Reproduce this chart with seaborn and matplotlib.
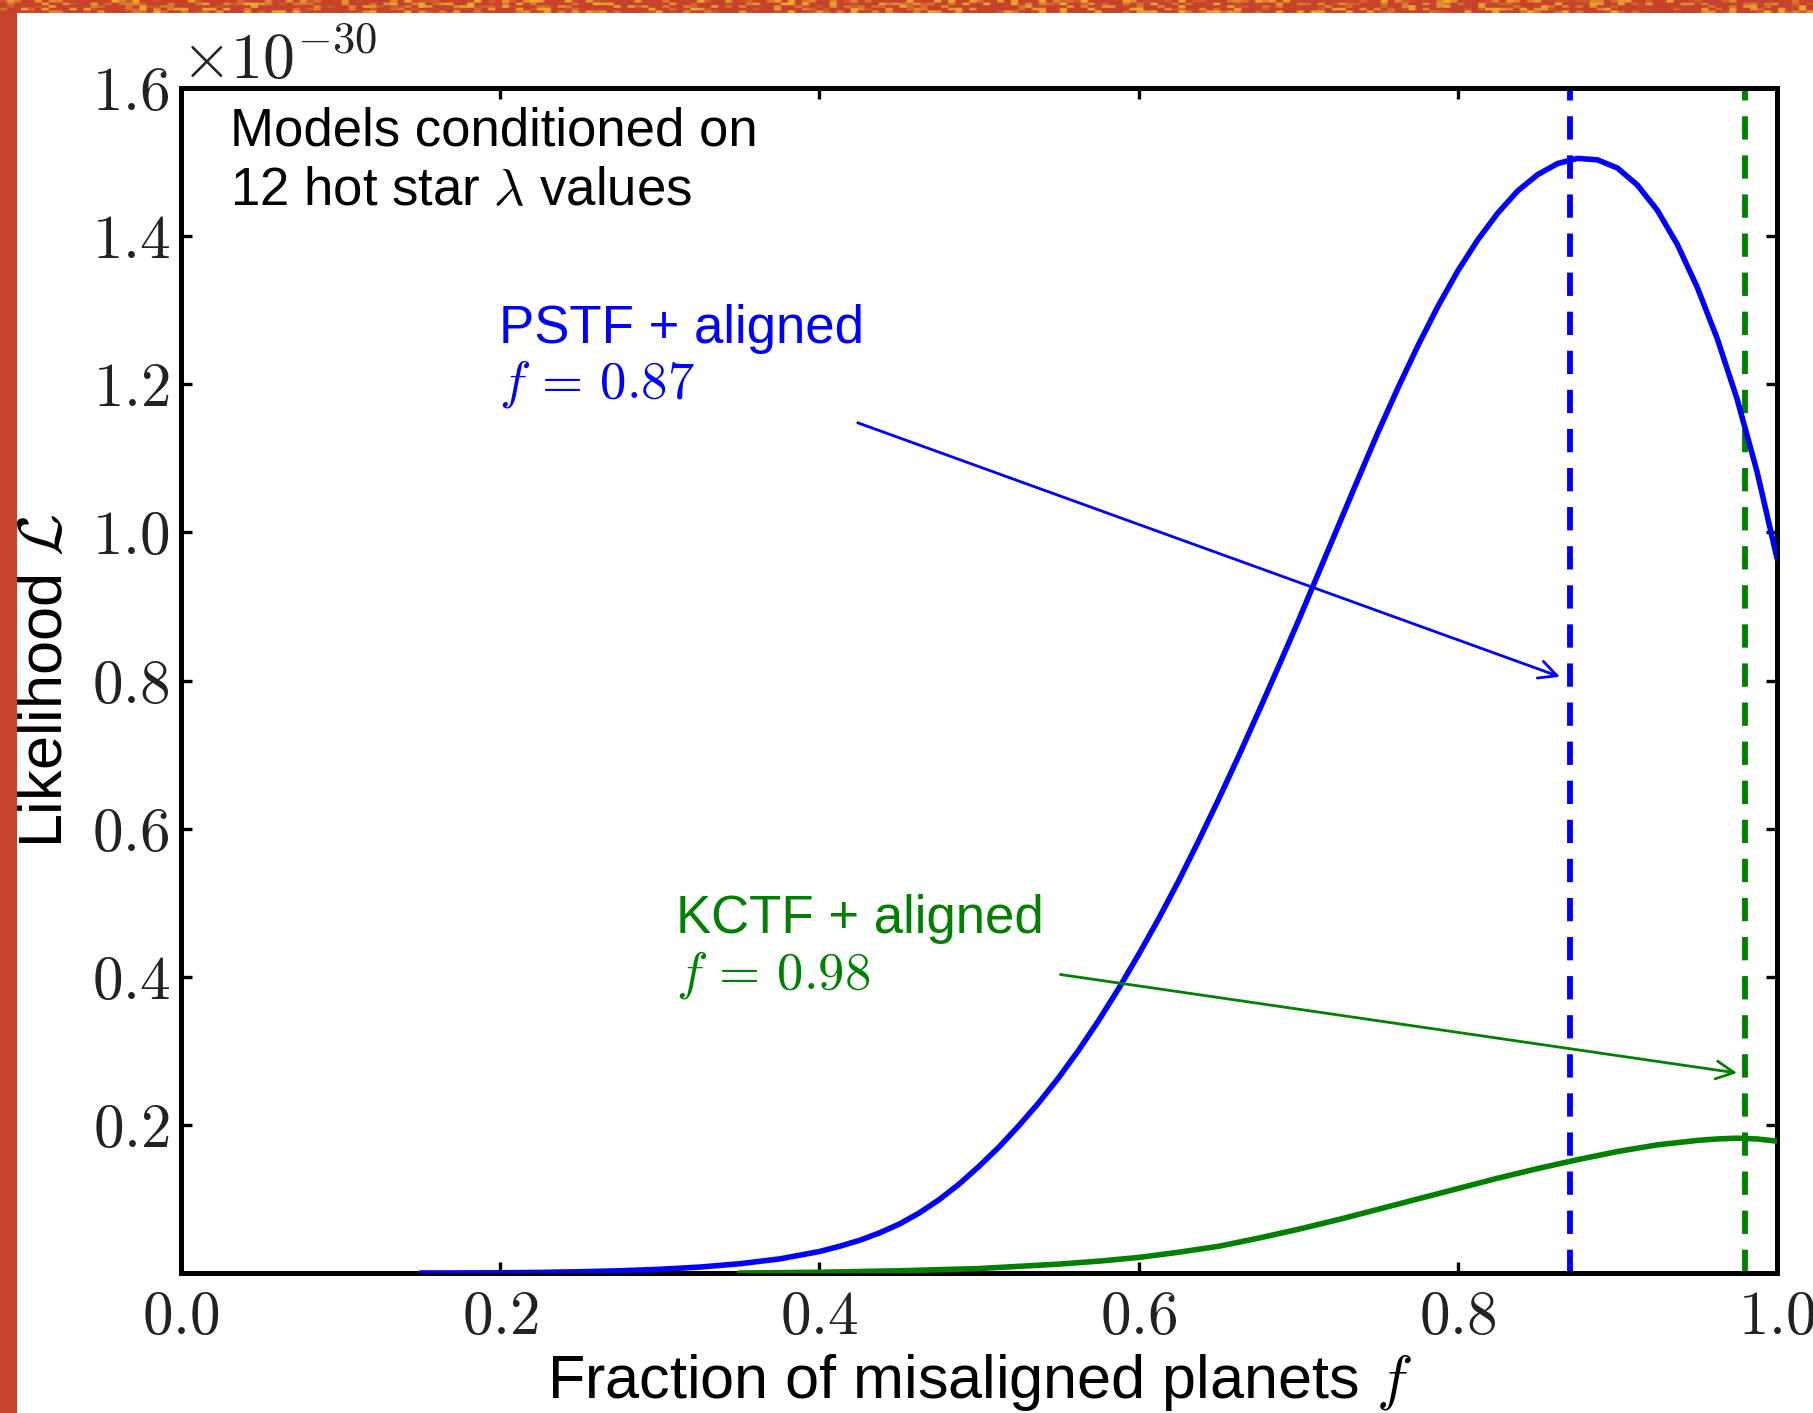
import numpy as np
import pandas as pd
import matplotlib
matplotlib.use("Agg")
import matplotlib.pyplot as plt
from matplotlib.patches import Rectangle
from matplotlib.ticker import FixedLocator, FuncFormatter
import seaborn as sns

# Likelihood curves (units of 1e-30) versus fraction of misaligned planets
f_grid = [0.15, 0.175, 0.20, 0.225, 0.25, 0.275, 0.30, 0.325, 0.35, 0.375,
          0.40, 0.4125, 0.425, 0.4375, 0.45, 0.4625, 0.475, 0.4875, 0.50,
          0.5125, 0.525, 0.5375, 0.55, 0.5625, 0.575, 0.5875, 0.60, 0.6125,
          0.625, 0.6375, 0.65, 0.6625, 0.675, 0.6875, 0.70, 0.7125, 0.725,
          0.7375, 0.75, 0.7625, 0.775, 0.7875, 0.80, 0.8125, 0.825, 0.8375,
          0.85, 0.8625, 0.875, 0.8875, 0.90, 0.9125, 0.925, 0.9375, 0.95,
          0.9625, 0.975, 0.9875, 1.00]
pstf_like = [0.0, 0.0001, 0.0003, 0.0008, 0.0017, 0.003, 0.005, 0.008, 0.0125,
             0.019, 0.029, 0.036, 0.044, 0.054, 0.066, 0.081, 0.099, 0.120,
             0.144, 0.170, 0.199, 0.230, 0.264, 0.301, 0.341, 0.384, 0.430,
             0.478, 0.529, 0.583, 0.639, 0.697, 0.757, 0.818, 0.880, 0.944,
             1.008, 1.072, 1.135, 1.195, 1.252, 1.305, 1.353, 1.395, 1.431,
             1.461, 1.483, 1.498, 1.505, 1.503, 1.492, 1.469, 1.435, 1.389,
             1.331, 1.262, 1.180, 1.082, 0.965]
f_grid_k = [0.35, 0.40, 0.45, 0.475, 0.50, 0.525, 0.55, 0.575, 0.60, 0.625,
            0.65, 0.675, 0.70, 0.725, 0.75, 0.775, 0.80, 0.825, 0.85, 0.875,
            0.90, 0.925, 0.95, 0.9625, 0.975, 0.9875, 1.00]
kctf_like = [0.0, 0.001, 0.003, 0.0045, 0.006, 0.009, 0.012, 0.016, 0.021,
             0.028, 0.036, 0.047, 0.059, 0.072, 0.086, 0.100, 0.114, 0.128,
             0.141, 0.153, 0.164, 0.173, 0.179, 0.181, 0.182, 0.181, 0.178]

# Best-fit fractions
f_best_pstf = 0.87
f_best_kctf = 0.98

x_ticks = [0.0, 0.2, 0.4, 0.6, 0.8, 1.0]
y_ticks = [0.2, 0.4, 0.6, 0.8, 1.0, 1.2, 1.4, 1.6]

sns.set_theme(style="ticks")
plt.rcParams["font.family"] = ["Liberation Sans", "DejaVu Sans"]
plt.rcParams["mathtext.fontset"] = "cm"

BLUE = "#0000ff"
GREEN = "#008000"
BORDER = "#c7432b"

W, H = 1813, 1413
fig = plt.figure(figsize=(W / 100, H / 100), dpi=100)
fig.patch.set_facecolor(BORDER)

# white page area
page = Rectangle((17 / W, 0), 1 - 17 / W, 1 - 13 / H,
                 transform=fig.transFigure, facecolor="white",
                 edgecolor="none", zorder=-10)
fig.patches.append(page)

# speckled strip along the top edge
strip = fig.add_axes([0, 1 - 13 / H, 1, 13 / H], zorder=-5)
rng = np.random.default_rng(7)
noise = rng.random((5, 260))
noise = np.kron(noise, np.ones((3, 3)))
tex = np.empty(noise.shape + (3,))
red = np.array([0.78, 0.26, 0.17])
yel = np.array([0.93, 0.66, 0.20])
mix = np.clip((noise - 0.55) * 2.5, 0, 1)[..., None]
tex[:] = red * (1 - mix) + yel * mix
strip.imshow(tex, aspect="auto", interpolation="bilinear")
strip.set_axis_off()

ax = fig.add_axes([181 / W, 1 - 1273 / H, (1777 - 181) / W, (1273 - 88) / H],
                  zorder=1)
ax.set_facecolor("white")

df_p = pd.DataFrame({"f": f_grid, "L": pstf_like})
df_k = pd.DataFrame({"f": f_grid_k, "L": kctf_like})
sns.lineplot(data=df_p, x="f", y="L", color=BLUE, lw=4.0, ax=ax, zorder=3)
sns.lineplot(data=df_k, x="f", y="L", color=GREEN, lw=4.0, ax=ax, zorder=3)

ax.axvline(f_best_pstf, color=BLUE, lw=4.2, dashes=(4, 2.7), zorder=2)
ax.axvline(f_best_kctf, color=GREEN, lw=4.2, dashes=(4, 2.7), zorder=2)

ax.set_xlim(0, 1.0)
ax.set_ylim(0, 1.6)
ax.xaxis.set_major_locator(FixedLocator(x_ticks))
ax.yaxis.set_major_locator(FixedLocator(y_ticks))
ax.xaxis.set_major_formatter(FuncFormatter(lambda v, p: f"${v:.1f}$"))
ax.yaxis.set_major_formatter(FuncFormatter(lambda v, p: f"${v:.1f}$"))
ax.tick_params(axis="both", which="major", direction="in", length=8, width=2.4,
               labelsize=44, top=True, right=True, color="black",
               labelcolor="#222222")
ax.tick_params(axis="x", pad=12)
ax.tick_params(axis="y", pad=8)
for s in ax.spines.values():
    s.set_visible(True)
    s.set_linewidth(3.6)
    s.set_color("black")

ax.text(0.0, 0.997, r"$\times10^{-30}$", transform=ax.transAxes, ha="left",
        va="bottom", fontsize=46, color="#222222")

ax.set_xlabel(r"Fraction of misaligned planets $f$", fontsize=44, labelpad=4,
              color="black")
ax.set_ylabel(r"Likelihood $\mathcal{L}$", fontsize=44, labelpad=12,
              color="black")

ax.text(0.031, 1.575, "Models conditioned on\n12 hot star $\\lambda$ values",
        fontsize=38, ha="left", va="top", linespacing=1.26, color="black")

ax.text(0.199, 1.309, "PSTF + aligned\n$f\\,=\\,0.87$", fontsize=38,
        ha="left", va="top", linespacing=1.12, color=BLUE)
ax.text(0.310, 0.512, "KCTF + aligned\n$f\\,=\\,0.98$", fontsize=38,
        ha="left", va="top", linespacing=1.12, color=GREEN)

ax.annotate("", xy=(0.864, 0.805), xytext=(0.424, 1.148),
            arrowprops=dict(arrowstyle="->", color=BLUE, lw=2.0,
                            mutation_scale=32, shrinkA=0, shrinkB=0))
ax.annotate("", xy=(0.975, 0.270), xytext=(0.551, 0.403),
            arrowprops=dict(arrowstyle="->", color=GREEN, lw=2.0,
                            mutation_scale=32, shrinkA=0, shrinkB=0))

fig.savefig("out.png", dpi=100, facecolor=fig.get_facecolor())
